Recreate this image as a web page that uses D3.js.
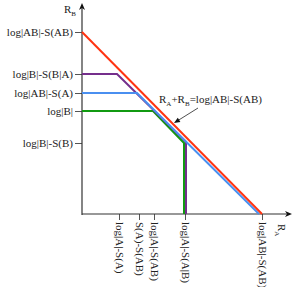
<!DOCTYPE html>
<html>
<head>
<meta charset="utf-8">
<script src="https://cdn.jsdelivr.net/npm/d3@7"></script>
<style>
  body { margin: 0; background: #fff; }
  svg text { font-family: "Liberation Serif", "DejaVu Serif", serif; font-size: 11px; fill: #222; }
</style>
</head>
<body>
<svg id="chart" width="299" height="287"></svg>
<script>
// tick values (in rate units) and their labels
const xTickVals = [37, 57, 72, 103, 180]
const xTickLabels = ['log|A|-S(A)', 'S(A)-S(AB)', 'log|A|-S(AB)', 'log|A|-S(A|B)', 'log|AB|-S(AB)']
const yTickVals = [182, 140, 121, 103, 71]
const yTickLabels = ['log|AB|-S(AB)', 'log|B|-S(B|A)', 'log|AB|-S(A)', 'log|B|', 'log|B|-S(B)']

// region boundaries, [R_A, R_B]
const redLine = [[0, 182], [180, 0]]
const blueLine = [[0, 121], [55, 121], [177, 0]]
const purpleLine = [[0, 140], [35, 140], [104, 72], [104, 0]]
const greenLine = [[0, 103], [71, 103], [102, 71], [102, 0]]

// annotation arrow: from text to the sum line
const annoFrom = [116, 106]
const annoTo = [92, 91]

const svg = d3.select('#chart')

const xScale = d3.scaleLinear().domain([0, 210]).range([82, 292])
const yScale = d3.scaleLinear().domain([0, 211]).range([214, 3])

// axes
const xAxis = d3.axisBottom(xScale)
    .tickValues(xTickVals)
    .tickFormat((d, i) => xTickLabels[i])
    .tickSize(6)
    .tickSizeOuter(0)
const yAxis = d3.axisLeft(yScale)
    .tickValues(yTickVals)
    .tickFormat((d, i) => yTickLabels[i])
    .tickSize(7)
    .tickSizeOuter(0)

const gx = svg.append('g')
    .attr('transform', `translate(0,${yScale(0)})`)
    .call(xAxis)
gx.select('.domain').remove()
gx.selectAll('.tick line').attr('stroke', '#555')
gx.selectAll('.tick text')
    .attr('transform', 'rotate(90)')
    .attr('x', 8)
    .attr('y', 0)
    .attr('dy', '0.35em')
    .attr('text-anchor', 'start')
    .style('font-family', '"Liberation Serif", serif')
    .style('font-size', '11px')
    .attr('fill', '#222')

const gy = svg.append('g')
    .attr('transform', `translate(${xScale(0)},0)`)
    .call(yAxis)
gy.select('.domain').remove()
gy.selectAll('.tick line').attr('stroke', '#555')
gy.selectAll('.tick text')
    .attr('x', -9)
    .style('font-family', '"Liberation Serif", serif')
    .style('font-size', '11px')
    .attr('fill', '#222')

// axis lines with arrow heads
const x0 = xScale(0), y0 = yScale(0)
const xEnd = xScale.range()[1], yEnd = yScale.range()[1]
svg.append('line')
    .attr('x1', x0).attr('y1', y0 + 1).attr('x2', x0).attr('y2', yEnd + 3)
    .attr('stroke', '#333').attr('stroke-width', 1.2)
svg.append('line')
    .attr('x1', x0).attr('y1', y0).attr('x2', xEnd - 3).attr('y2', y0)
    .attr('stroke', '#333').attr('stroke-width', 1.2)
svg.append('path')
    .attr('d', `M${x0},${yEnd} L${x0 - 3},${yEnd + 7} L${x0},${yEnd + 5} L${x0 + 3},${yEnd + 7} Z`)
    .attr('fill', '#111')
svg.append('path')
    .attr('d', `M${xEnd},${y0} L${xEnd - 7},${y0 - 3} L${xEnd - 5},${y0} L${xEnd - 7},${y0 + 3} Z`)
    .attr('fill', '#111')

// axis titles
const rb = svg.append('text').attr('x', x0 - 18).attr('y', 13)
rb.append('tspan').text('R')
rb.append('tspan').attr('dy', 3).style('font-size', '7px').text('B')

const ra = svg.append('text')
    .attr('transform', `translate(${xEnd - 10},${y0 + 10}) rotate(90)`)
    .attr('dy', '0.35em')
ra.append('tspan').text('R')
ra.append('tspan').attr('dy', 3).style('font-size', '7px').text('A')

// boundaries
const line = d3.line()
    .x(d => xScale(d[0]))
    .y(d => yScale(d[1]))

const series = [
    { pts: greenLine, color: '#119a11' },
    { pts: purpleLine, color: '#752f8c' },
    { pts: blueLine, color: '#4a8ff0' },
    { pts: redLine, color: '#ff3311' }
]
svg.selectAll('path.bound')
    .data(series)
    .join('path')
    .attr('class', 'bound')
    .attr('d', d => line(d.pts))
    .attr('fill', 'none')
    .attr('stroke', d => d.color)
    .attr('stroke-width', 2)

// annotation
const ann = svg.append('text').attr('x', xScale(77)).attr('y', yScale(111))
ann.append('tspan').text('R')
ann.append('tspan').attr('dy', 3).style('font-size', '7px').text('A')
ann.append('tspan').attr('dy', -3).text('+R')
ann.append('tspan').attr('dy', 3).style('font-size', '7px').text('B')
ann.append('tspan').attr('dy', -3).text('=log|AB|-S(AB)')

const ax1 = xScale(annoFrom[0]), ay1 = yScale(annoFrom[1])
const ax2 = xScale(annoTo[0]), ay2 = yScale(annoTo[1])
const ang = Math.atan2(ay2 - ay1, ax2 - ax1)
svg.append('line')
    .attr('x1', ax1).attr('y1', ay1)
    .attr('x2', ax2 - 4 * Math.cos(ang)).attr('y2', ay2 - 4 * Math.sin(ang))
    .attr('stroke', '#222').attr('stroke-width', 0.8)
const hl = 6, hw = 2.5
svg.append('path')
    .attr('d', `M${ax2},${ay2}
        L${ax2 - hl * Math.cos(ang) + hw * Math.sin(ang)},${ay2 - hl * Math.sin(ang) - hw * Math.cos(ang)}
        L${ax2 - hl * Math.cos(ang) - hw * Math.sin(ang)},${ay2 - hl * Math.sin(ang) + hw * Math.cos(ang)} Z`)
    .attr('fill', '#111')
</script>
</body>
</html>
